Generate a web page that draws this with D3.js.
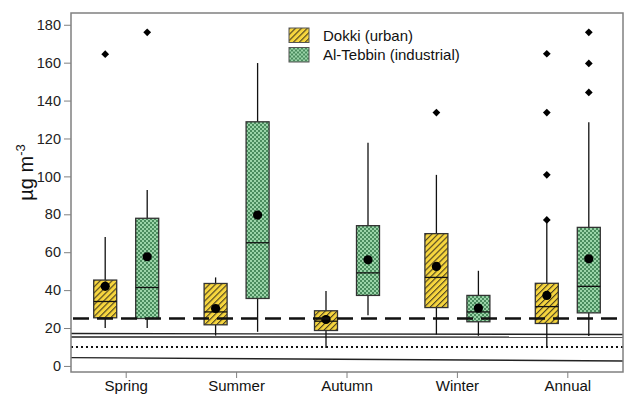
<!DOCTYPE html>
<html>
<head>
<meta charset="utf-8">
<script src="https://cdn.jsdelivr.net/npm/d3@7.9.0/dist/d3.min.js"></script>
<style>
  body { margin: 0; background: #fff; }
  svg { display: block; font-family: Arial, "Liberation Sans", sans-serif; }
</style>
</head>
<body>
<svg id="chart" width="625" height="394"></svg>
<script>
const seasons = ['Spring', 'Summer', 'Autumn', 'Winter', 'Annual'];
const sites = ['Dokki (urban)', 'Al-Tebbin (industrial)'];

// box stats per season: [whiskerLow, q1, median, q3, whiskerHigh]
const dokkiBoxes = [
  [20, 25.4, 34, 45.3, 68],
  [16, 21.7, 28.5, 43.5, 46.7],
  [9.5, 18.7, 23.6, 29.1, 39.5],
  [16.6, 30.8, 46.7, 69.8, 100.8],
  [10, 22.4, 31.3, 43.6, 77]
];
const tebbinBoxes = [
  [20, 25, 41.4, 77.9, 92.8],
  [18, 35.6, 65, 128.8, 159.8],
  [26.8, 37.2, 49.1, 74, 117.8],
  [15.9, 23.3, 28.5, 37.2, 50.2],
  [15.8, 28, 42, 73.1, 128.6]
];
const dokkiMeans = [42, 30.3, 24.5, 52.5, 37.2];
const tebbinMeans = [57.6, 79.6, 56, 30.5, 56.5];
const dokkiOutliers = [[164.5], [], [], [133.7], [164.7, 133.7, 100.8, 77]];
const tebbinOutliers = [[176], [], [], [], [176, 159.6, 144.3]];

const yTicks = [0, 20, 40, 60, 80, 100, 120, 140, 160, 180];
// guideline levels across the plot: [value at left, value at right]
const dashedGuide = [25, 25];
const solidGuides = [[17.1, 16.6], [15.3, 15.2], [4.4, 2.6]];
const dottedGuide = [10, 10];

const svg = d3.select('#chart');
const plot = { left: 71, right: 623, top: 13, bottom: 372 };
const gray = '#808080';

const defs = svg.append('defs');
const hatch = defs.append('pattern')
  .attr('id', 'hatch').attr('patternUnits', 'userSpaceOnUse')
  .attr('width', 4.2).attr('height', 4.2)
  .attr('patternTransform', 'rotate(45)');
hatch.append('rect').attr('width', 4.2).attr('height', 4.2).attr('fill', '#f7d63e');
hatch.append('rect').attr('width', 1.1).attr('height', 4.2).attr('fill', '#4a4020');

const check = defs.append('pattern')
  .attr('id', 'check').attr('patternUnits', 'userSpaceOnUse')
  .attr('width', 4).attr('height', 4);
check.append('rect').attr('width', 4).attr('height', 4).attr('fill', '#9ad4a8');
check.append('rect').attr('width', 2).attr('height', 2).attr('fill', '#4a8c5e');
check.append('rect').attr('x', 2).attr('y', 2).attr('width', 2).attr('height', 2).attr('fill', '#4a8c5e');

const x = d3.scaleBand().domain(seasons).range([plot.left, plot.right]);
const xSite = d3.scalePoint().domain(sites).range([-21, 21]);
const y = d3.scaleLinear().domain([-3.2, 186.2]).range([plot.bottom, plot.top]);

// guide lines
const gx = d3.scaleLinear().domain([0, 1]).range([plot.left, plot.right]);
const guides = svg.append('g');
for (const g of solidGuides) {
  guides.append('line')
    .attr('x1', gx(0)).attr('x2', gx(1))
    .attr('y1', y(g[0])).attr('y2', y(g[1]))
    .attr('stroke', '#222').attr('stroke-width', 1.4);
}
guides.append('line')
  .attr('x1', gx(0)).attr('x2', gx(1))
  .attr('y1', y(dottedGuide[0])).attr('y2', y(dottedGuide[1]))
  .attr('stroke', '#111').attr('stroke-width', 2.2).attr('stroke-dasharray', '2,3');

// y axis
svg.append('g')
  .attr('transform', `translate(${plot.left},0)`)
  .call(d3.axisLeft(y).tickValues(yTicks).tickSize(7).tickPadding(3))
  .call((g) => g.select('.domain').remove())
  .call((g) => g.selectAll('line').attr('stroke', gray))
  .call((g) => g.selectAll('text').attr('font-size', 14.5).attr('fill', '#222').attr('font-family', 'Arial, "Liberation Sans", sans-serif'));

// x axis
svg.append('g')
  .attr('transform', `translate(0,${plot.bottom})`)
  .call(d3.axisBottom(x).tickSize(6).tickPadding(2))
  .call((g) => g.select('.domain').remove())
  .call((g) => g.selectAll('line').attr('stroke', gray))
  .call((g) => g.selectAll('text').attr('font-size', 15).attr('fill', '#111').attr('font-family', 'Arial, "Liberation Sans", sans-serif'));

// y label
svg.append('text')
  .attr('transform', `translate(33,${(plot.top + plot.bottom) / 2 - 20}) rotate(-90)`)
  .attr('text-anchor', 'middle')
  .attr('font-size', 20).attr('fill', '#111')
  .html('µg m<tspan dy="-8" font-size="13">-3</tspan>');

const series = [
  { site: sites[0], boxes: dokkiBoxes, means: dokkiMeans, outliers: dokkiOutliers, fill: 'url(#hatch)' },
  { site: sites[1], boxes: tebbinBoxes, means: tebbinMeans, outliers: tebbinOutliers, fill: 'url(#check)' }
];
const boxW = 23;
const marker = d3.symbol().type(d3.symbolSquare).size(30);

for (const s of series) {
  const g = svg.append('g');
  seasons.forEach((season, i) => {
    const cx = x(season) + x.bandwidth() / 2 + xSite(s.site);
    const [lo, q1, med, q3, hi] = s.boxes[i];
    g.append('line').attr('x1', cx).attr('x2', cx).attr('y1', y(hi)).attr('y2', y(q3))
      .attr('stroke', '#111').attr('stroke-width', 1.3);
    g.append('line').attr('x1', cx).attr('x2', cx).attr('y1', y(q1)).attr('y2', y(lo))
      .attr('stroke', '#111').attr('stroke-width', 1.3);
    g.append('rect')
      .attr('x', cx - boxW / 2).attr('width', boxW)
      .attr('y', y(q3)).attr('height', y(q1) - y(q3))
      .attr('fill', s.fill).attr('stroke', '#333').attr('stroke-width', 1.3);
    g.append('line').attr('x1', cx - boxW / 2).attr('x2', cx + boxW / 2)
      .attr('y1', y(med)).attr('y2', y(med))
      .attr('stroke', '#111').attr('stroke-width', 1.3);
    g.append('circle').attr('cx', cx).attr('cy', y(s.means[i])).attr('r', 4.6).attr('fill', '#000');
    g.selectAll(null).data(s.outliers[i]).join('path')
      .attr('d', marker)
      .attr('transform', (d) => `translate(${cx},${y(d)}) rotate(45)`)
      .attr('fill', '#000');
  });
}

// dashed guide on top of boxes
svg.append('line')
  .attr('x1', gx(0)).attr('x2', gx(1))
  .attr('y1', y(dashedGuide[0])).attr('y2', y(dashedGuide[1]))
  .attr('stroke', '#111').attr('stroke-width', 2.6).attr('stroke-dasharray', '16,8')
  .attr('stroke-dashoffset', -2);

// frame
svg.append('rect')
  .attr('x', plot.left).attr('y', plot.top)
  .attr('width', plot.right - plot.left).attr('height', plot.bottom - plot.top)
  .attr('fill', 'none').attr('stroke', gray).attr('stroke-width', 1.5);

// legend
const legend = svg.append('g').attr('transform', 'translate(289,28)');
series.forEach((s, i) => {
  const row = legend.append('g').attr('transform', `translate(0,${i * 19.5})`);
  row.append('rect').attr('width', 20).attr('height', 14.5)
    .attr('fill', s.fill).attr('stroke', '#555').attr('stroke-width', 1);
  row.append('text').attr('x', 34).attr('y', 12.5)
    .attr('font-size', 15).attr('fill', '#111').text(s.site);
});
</script>
</body>
</html>
